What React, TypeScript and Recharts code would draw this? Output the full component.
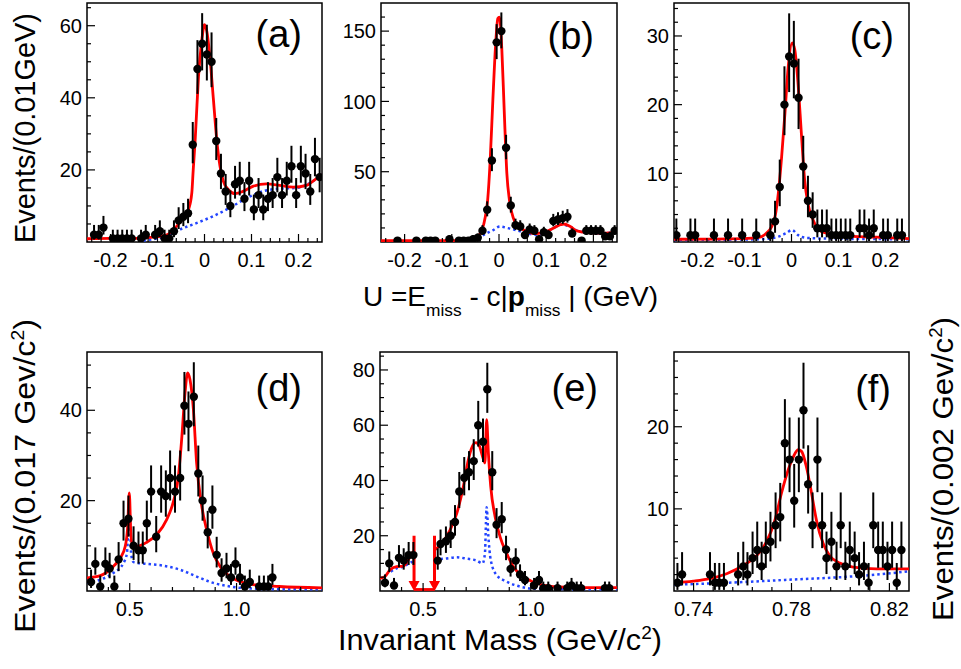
import React from "react";
import {
  ComposedChart,
  Line,
  Scatter,
  XAxis,
  YAxis,
  ErrorBar,
  ReferenceArea,
  ReferenceLine,
} from "recharts";

const FONT = "'Liberation Sans', Arial, Helvetica, sans-serif";
const RED = "#ff0000";
const BLUE = "#2244ff";

// ---------- tick labels ----------
const uTicks = [-0.2, -0.1, 0, 0.1, 0.2];
const massTicks = [0.5, 1.0];
const fXTicks = [0.74, 0.78, 0.82];
const aYTicks = [20, 40, 60];
const bYTicks = [50, 100, 150];
const cYTicks = [10, 20, 30];
const dYTicks = [20, 40];
const eYTicks = [20, 40, 60, 80];
const fYTicks = [10, 20];

// ---------- panel (a) ----------
const aBinX = [-0.235,-0.225,-0.215,-0.195,-0.185,-0.175,-0.165,-0.155,-0.135,-0.125,-0.105,-0.095,-0.085,-0.075,-0.065,-0.055,-0.045,-0.035,-0.025,-0.015,-0.005,0.005,0.015,0.025,0.035,0.045,0.055,0.065,0.075,0.085,0.095,0.105,0.115,0.125,0.135,0.145,0.155,0.165,0.175,0.185,0.195,0.205,0.215,0.225,0.235,0.245];
const aCounts = [2,2,4,1,1,1,1,1,1,2,2,3,1,1,3,6,7,8,27,48,55,52,50,28,19,14,10,16,17,12,17,9,13,9,12,13,18,13,17,21,13,21,19,14,23,18];
const aFitX = [-0.25,-0.2,-0.15,-0.122,-0.1,-0.08,-0.059,-0.045,-0.034,-0.027,-0.024,-0.02,-0.016,-0.0127,-0.0057,0,0.005,0.012,0.019,0.026,0.033,0.04,0.051,0.065,0.083,0.104,0.132,0.16,0.189,0.217,0.231,0.25];
const aFitY = [0.9,1.0,1.0,1.2,1.5,2.0,4.4,6.7,9,13.6,20,28,38,46,56,60.3,58.4,50.6,39.5,28.4,21,16.9,14.5,13.4,14.1,15.5,16.1,15.7,15.2,15.7,16.9,18.7];
const aBkgX = [-0.13,-0.1,-0.087,-0.052,-0.016,0.019,0.054,0.09,0.125,0.16,0.196,0.231,0.25];
const aBkgY = [0.4,1.0,1.4,3.5,5.3,7.2,9.5,12.2,14.1,14.8,15.0,16.9,18.7];

// ---------- panel (b) ----------
const bBinX = [-0.215,-0.175,-0.155,-0.145,-0.135,-0.105,-0.085,-0.075,-0.065,-0.055,-0.045,-0.035,-0.025,-0.015,-0.005,0.005,0.015,0.025,0.035,0.045,0.055,0.065,0.075,0.085,0.095,0.105,0.115,0.125,0.135,0.145,0.155,0.175,0.185,0.195,0.205,0.215,0.225,0.235,0.245];
const bCounts = [1,1,1,1,1,2,1,1,1,2,3,8,23,58,142,150,67,26,12,11,5,9,8,2,7,5,15,16,17,18,6,1,8,8,8,8,4,4,8];
const bFitX = [-0.25,-0.1,-0.061,-0.047,-0.036,-0.029,-0.024,-0.0187,-0.013,-0.0074,-0.0025,0.001,0.006,0.011,0.0166,0.022,0.027,0.034,0.045,0.059,0.073,0.087,0.101,0.116,0.13,0.137,0.151,0.165,0.186,0.222,0.25];
const bFitY = [1,1,1.2,3.3,8.5,18,30,58,101,139,159,160,137,94,49,30,21,14,10,7.6,5.9,6.3,7.5,10,12.3,12.8,11,7.9,6.7,6.3,7.4];
const bBkgX = [-0.054,-0.033,-0.012,0.002,0.017,0.038,0.059,0.08,0.094,0.116,0.133,0.151,0.172,0.222,0.25];
const bBkgY = [0.3,5,8.5,11,10,8.3,6.2,5,6.2,10,12.5,10.8,7.3,6.2,7.3];

// ---------- panel (c) ----------
const cBinX = [-0.245,-0.215,-0.205,-0.165,-0.135,-0.105,-0.075,-0.045,-0.035,-0.025,-0.015,-0.005,0.005,0.015,0.025,0.035,0.045,0.055,0.065,0.075,0.085,0.095,0.105,0.115,0.125,0.145,0.155,0.165,0.175,0.195,0.205,0.225,0.235];
const cCounts = [1,1,1,1,1,1,1,1,3,8,20,27,26,21,11,6,4,2,2,2,1,1,1,1,1,2,2,1,2,1,1,1,1];
const cFitX = [-0.25,-0.103,-0.067,-0.053,-0.0425,-0.035,-0.028,-0.021,-0.014,-0.007,0.0014,0.007,0.014,0.021,0.028,0.035,0.046,0.06,0.074,0.11,0.18,0.25];
const cFitY = [0.4,0.5,0.7,1.3,2.2,3.7,7.1,12.4,18.7,25.5,29,28,23,15.8,9,5.6,3.2,1.7,1.3,0.9,0.7,0.5];
const cBkgX = [-0.25,-0.067,-0.032,-0.011,0.001,0.014,0.032,0.074,0.25];
const cBkgY = [0.3,0.4,0.7,1.3,1.75,1.0,0.6,0.5,0.4];

// ---------- panel (d) ----------
const dBinX = [0.319,0.339,0.362,0.386,0.406,0.428,0.448,0.471,0.494,0.518,0.541,0.561,0.58,0.6,0.624,0.647,0.669,0.689,0.712,0.736,0.756,0.775,0.8,0.821,0.841,0.865,0.887,0.907,0.93,0.953,0.974,0.995,1.016,1.039,1.062,1.106,1.128,1.148,1.168];
const dCounts = [2,6,1,6,5,1,7,15,16,10,9,9,15,22,12,22,21,25,22,25,41,37,43,26,20,13,18,8,4,5,3,6,3,1,2,1,1,1,3];
const dFitX = [0.3,0.362,0.424,0.456,0.479,0.49,0.498,0.505,0.512,0.533,0.58,0.627,0.673,0.705,0.728,0.743,0.759,0.771,0.782,0.798,0.813,0.837,0.86,0.891,0.922,0.969,1.016,1.078,1.2,1.4];
const dFitY = [2.9,3.4,5.5,7.3,9.9,14,21.7,13,10,9.9,10.8,12.5,15.8,19.9,25.4,33.5,43.9,48.3,46.8,40.2,28.4,18.8,13.6,8.4,5.5,3.2,2.1,1.4,1.0,0.7];
const dBkgX = [0.3,0.362,0.424,0.471,0.487,0.498,0.507,0.518,0.58,0.658,0.736,0.813,0.891,0.969,1.047,1.2,1.4];
const dBkgY = [1.8,2.5,4,6.2,8.4,18,8,6.4,6,5.6,4.7,3.2,1.8,1,0.6,0.4,0.4];

// ---------- panel (e) ----------
const eBinX = [0.323,0.343,0.365,0.388,0.41,0.433,0.455,0.568,0.581,0.606,0.628,0.648,0.668,0.691,0.713,0.735,0.756,0.778,0.798,0.821,0.841,0.865,0.885,0.906,0.93,0.95,0.973,1.015,1.038,1.058,1.081,1.124,1.169,1.189,1.213,1.233,1.344,1.364];
const eCounts = [3,10,2,12,11,13,13,11,17,18,20,25,36,41,43,47,60,54,73,43,24,26,15,8,11,6,4,2,4,1,1,1,1,2,1,1,1,1];
const eFitLX = [0.3,0.323,0.346,0.377,0.408,0.431,0.447,0.458];
const eFitLY = [4.6,5.2,7.6,8.8,9,11.2,13.6,14.5];
const eFitGapX = [0.458,0.553];
const eFitGapY = [0.55,0.55];
const eFitRX = [0.553,0.594,0.625,0.656,0.687,0.71,0.725,0.745,0.761,0.776,0.787,0.795,0.803,0.814,0.834,0.857,0.888,0.919,0.965,1.027,1.104,1.259,1.4];
const eFitRY = [14.8,17.9,22,28,37.8,47.5,51.7,53.7,52.5,48.7,46.3,62,50,37.8,27,19.7,13.6,8.8,5.2,2.8,1.6,1.2,1.2];
const eBkgLX = [0.35,0.38,0.41,0.435,0.456];
const eBkgLY = [7.0,8.3,8.8,10,10.8];
const eBkgRX = [0.555,0.609,0.656,0.702,0.749,0.776,0.787,0.795,0.803,0.814,0.841,0.888,0.95,1.027,1.4];
const eBkgRY = [11.4,11.8,12.2,11.7,11,10,13.6,30.3,19.7,11.2,5.8,3.4,1.6,0.8,0.6];
const eCutX = [0.458,0.553];
const eCutTop = 20;

// ---------- panel (f) ----------
const fBinX = [0.7334,0.7353,0.7467,0.7487,0.7505,0.7524,0.7582,0.7603,0.762,0.7641,0.766,0.7678,0.7695,0.7714,0.7735,0.7754,0.7773,0.7792,0.7811,0.783,0.7849,0.7868,0.7886,0.7906,0.7925,0.7943,0.7963,0.7984,0.8001,0.802,0.8038,0.8058,0.8076,0.8096,0.8115,0.8134,0.8154,0.8173,0.8192,0.8211,0.823,0.8249];
const fCounts = [1,2,2,1,1,1,2,3,2,4,5,3,5,6,8,9,18,16,11,16,22,13,8,16,8,4,6,3,8,3,5,4,2,3,1,8,5,5,3,5,1,5];
const fFitX = [0.732,0.7399,0.7467,0.7535,0.7603,0.7657,0.7698,0.7732,0.7759,0.7786,0.7807,0.7827,0.7841,0.7861,0.7882,0.7902,0.7929,0.7956,0.7997,0.8052,0.8147,0.828];
const fFitY = [1.0,1.2,1.5,2.1,3.1,4.3,6.0,8.6,11.9,14.7,16.3,17.2,17.0,15.1,11.9,8.6,5.8,4.3,3.4,2.9,2.7,2.7];
const fBkgX = [0.732,0.7535,0.7807,0.8011,0.8147,0.828];
const fBkgY = [0.77,1.0,1.4,1.7,2.0,2.4];

// ---------- helpers ----------
type Pt = { x: number; y: number; err?: [number, number] };
const pts = (xs: number[], ns: number[]): Pt[] =>
  xs.map((x, i) => {
    const n = ns[i];
    return { x, y: n, err: [Math.sqrt(Math.max(n - 0.25, 0)), Math.sqrt(n + 1) + 1] };
  });
const curve = (xs: number[], ys: number[]): Pt[] => xs.map((x, i) => ({ x, y: ys[i] }));
const range = (a: number, b: number, s: number) => {
  const out: number[] = [];
  const n = Math.round((b - a) / s);
  for (let k = 0; k <= n; k++) out.push(+(a + k * s).toFixed(6));
  return out;
};
const near = (arr: number[], v: number) => arr.some((m) => Math.abs(m - v) < 1e-7);
const minorOf = (all: number[], major: number[]) => all.filter((v) => !near(major, v));

type Box = { left: number; top: number; w: number; h: number };

type PanelProps = {
  box: Box;
  xDomain: [number, number];
  yDomain: [number, number];
  xMajor: number[];
  xMinor: number[];
  yMajor: number[];
  yMinor: number[];
  xFmt: (v: number) => string;
  points: Pt[];
  fits: Pt[][];
  bkgs: Pt[][];
  fitTypes?: ("monotone" | "linear")[];
  cuts?: number[];
  cutTop?: number;
};

const AXW = 60;
const AXH = 34;
const PAD = 6;
const TICK_FS = 20;

const Dot = (p: any) => <circle cx={p.cx} cy={p.cy} r={4.2} fill="#000" />;
const ArrowHead = (p: any) => (
  <polygon
    points={`${p.cx - 5.5},${p.cy - 10} ${p.cx + 5.5},${p.cy - 10} ${p.cx},${p.cy}`}
    fill={RED}
  />
);

function Panel(p: PanelProps) {
  const W = AXW + p.box.w + PAD;
  const H = PAD + p.box.h + AXH;
  const yTick = (t: any) => {
    const v = t.payload.value;
    const maj = near(p.yMajor, v);
    return (
      <g>
        <line x1={t.x} x2={t.x + (maj ? 8 : 4)} y1={t.y} y2={t.y} stroke="#000" strokeWidth={1.2} />
        {maj && (
          <text x={t.x - 5} y={t.y} dy="0.36em" textAnchor="end" fontFamily={FONT} fontSize={TICK_FS} fill="#000">
            {String(v)}
          </text>
        )}
      </g>
    );
  };
  const xTick = (t: any) => {
    const v = t.payload.value;
    const maj = near(p.xMajor, v);
    return (
      <g>
        <line x1={t.x} x2={t.x} y1={t.y} y2={t.y - (maj ? 8 : 4)} stroke="#000" strokeWidth={1.2} />
        {maj && (
          <text x={t.x} y={t.y + 25} textAnchor="middle" fontFamily={FONT} fontSize={TICK_FS} fill="#000">
            {p.xFmt(v)}
          </text>
        )}
      </g>
    );
  };
  return (
    <div style={{ position: "absolute", left: p.box.left - AXW, top: p.box.top - PAD }}>
      <ComposedChart width={W} height={H} margin={{ top: PAD, right: PAD, bottom: 0, left: 0 }}>
        <XAxis
          xAxisId="x"
          type="number"
          dataKey="x"
          domain={p.xDomain}
          allowDataOverflow
          ticks={[...p.xMajor, ...p.xMinor]}
          interval={0}
          tickSize={0}
          tickMargin={0}
          tickLine={false}
          axisLine={false}
          tick={xTick}
          height={AXH}
        />
        <YAxis
          yAxisId="y"
          type="number"
          dataKey="y"
          domain={p.yDomain}
          allowDataOverflow
          ticks={[...p.yMajor, ...p.yMinor]}
          interval={0}
          tickSize={0}
          tickMargin={0}
          tickLine={false}
          axisLine={false}
          tick={yTick}
          width={AXW}
        />
        <ReferenceArea
          xAxisId="x"
          yAxisId="y"
          x1={p.xDomain[0]}
          x2={p.xDomain[1]}
          y1={p.yDomain[0]}
          y2={p.yDomain[1]}
          fill="none"
          stroke="#000"
          strokeWidth={1.5}
        />
        {p.bkgs.map((d, i) => (
          <Line
            key={"b" + i}
            xAxisId="x"
            yAxisId="y"
            data={d}
            dataKey="y"
            type="monotone"
            stroke={BLUE}
            strokeWidth={2.5}
            strokeDasharray="2.5 3"
            dot={false}
            activeDot={false}
            isAnimationActive={false}
          />
        ))}
        {p.fits.map((d, i) => (
          <Line
            key={"f" + i}
            xAxisId="x"
            yAxisId="y"
            data={d}
            dataKey="y"
            type={p.fitTypes ? p.fitTypes[i] : "monotone"}
            stroke={RED}
            strokeWidth={2.8}
            dot={false}
            activeDot={false}
            isAnimationActive={false}
          />
        ))}
        {p.cuts &&
          p.cuts.map((c, i) => (
            <ReferenceLine
              key={"c" + i}
              xAxisId="x"
              yAxisId="y"
              segment={[
                { x: c, y: p.cutTop ?? 20 },
                { x: c, y: 2 },
              ]}
              stroke={RED}
              strokeWidth={3}
            />
          ))}
        {p.cuts && (
          <Scatter
            xAxisId="x"
            yAxisId="y"
            data={p.cuts.map((c) => ({ x: c, y: 0 }))}
            dataKey="y"
            shape={ArrowHead}
            isAnimationActive={false}
          />
        )}
        <Scatter xAxisId="x" yAxisId="y" data={p.points} dataKey="y" shape={Dot} isAnimationActive={false}>
          <ErrorBar dataKey="err" direction="y" width={0} stroke="#000" strokeWidth={2} />
        </Scatter>
      </ComposedChart>
    </div>
  );
}

const uFmt = (v: number) => (Math.abs(v) < 1e-9 ? "0" : String(v));
const mFmt = (v: number) => v.toFixed(1);
const fFmt = (v: number) => v.toFixed(2);

const uMinor = minorOf(range(-0.24, 0.24, 0.02), uTicks);
const mMinor = minorOf(range(0.4, 1.3, 0.1), massTicks);
const fMinor = minorOf(range(0.74, 0.82, 0.008), fXTicks);

const labelStyle = { fontFamily: FONT, fill: "#000" } as const;

export default function App() {
  return (
    <div style={{ position: "absolute", left: 0, top: 0, width: 961, height: 669, background: "#fff", overflow: "hidden" }}>
      <Panel
        box={{ left: 87, top: 3, w: 235, h: 239 }}
        xDomain={[-0.25, 0.25]}
        yDomain={[0, 66.3]}
        xMajor={uTicks}
        xMinor={uMinor}
        yMajor={aYTicks}
        yMinor={minorOf(range(5, 65, 5), aYTicks)}
        xFmt={uFmt}
        points={pts(aBinX, aCounts)}
        fits={[curve(aFitX, aFitY)]}
        bkgs={[curve(aBkgX, aBkgY)]}
      />
      <Panel
        box={{ left: 381, top: 3, w: 236, h: 239 }}
        xDomain={[-0.25, 0.25]}
        yDomain={[0, 170]}
        xMajor={uTicks}
        xMinor={uMinor}
        yMajor={bYTicks}
        yMinor={minorOf(range(10, 160, 10), bYTicks)}
        xFmt={uFmt}
        points={pts(bBinX, bCounts)}
        fits={[curve(bFitX, bFitY)]}
        bkgs={[curve(bBkgX, bBkgY)]}
      />
      <Panel
        box={{ left: 674, top: 3, w: 235, h: 239 }}
        xDomain={[-0.25, 0.25]}
        yDomain={[0, 34.8]}
        xMajor={uTicks}
        xMinor={uMinor}
        yMajor={cYTicks}
        yMinor={minorOf(range(2, 34, 2), cYTicks)}
        xFmt={uFmt}
        points={pts(cBinX, cCounts)}
        fits={[curve(cFitX, cFitY)]}
        bkgs={[curve(cBkgX, cBkgY)]}
      />
      <Panel
        box={{ left: 87, top: 352, w: 235, h: 239 }}
        xDomain={[0.3, 1.4]}
        yDomain={[0, 52.9]}
        xMajor={massTicks}
        xMinor={mMinor}
        yMajor={dYTicks}
        yMinor={minorOf(range(5, 50, 5), dYTicks)}
        xFmt={mFmt}
        points={pts(dBinX, dCounts)}
        fits={[curve(dFitX, dFitY)]}
        bkgs={[curve(dBkgX, dBkgY)]}
      />
      <Panel
        box={{ left: 380, top: 352, w: 237, h: 239 }}
        xDomain={[0.3, 1.4]}
        yDomain={[0, 86.5]}
        xMajor={massTicks}
        xMinor={mMinor}
        yMajor={eYTicks}
        yMinor={minorOf(range(5, 85, 5), eYTicks)}
        xFmt={mFmt}
        points={pts(eBinX, eCounts)}
        fits={[curve(eFitLX, eFitLY), curve(eFitGapX, eFitGapY), curve(eFitRX, eFitRY)]}
        fitTypes={["monotone", "linear", "monotone"]}
        bkgs={[curve(eBkgLX, eBkgLY), curve(eBkgRX, eBkgRY)]}
        cuts={eCutX}
        cutTop={eCutTop}
      />
      <Panel
        box={{ left: 674, top: 352, w: 235, h: 239 }}
        xDomain={[0.732, 0.828]}
        yDomain={[0, 29.1]}
        xMajor={fXTicks}
        xMinor={fMinor}
        yMajor={fYTicks}
        yMinor={minorOf(range(2, 28, 2), fYTicks)}
        xFmt={fFmt}
        points={pts(fBinX, fCounts)}
        fits={[curve(fFitX, fFitY)]}
        bkgs={[curve(fBkgX, fBkgY)]}
      />
      <svg
        width={961}
        height={669}
        style={{ position: "absolute", left: 0, top: 0, pointerEvents: "none" }}
      >
        <g {...labelStyle} fontSize={38} textAnchor="end">
          <text x={302} y={47}>(a)</text>
          <text x={594} y={49}>(b)</text>
          <text x={894} y={49}>(c)</text>
          <text x={302} y={401}>(d)</text>
          <text x={598} y={401}>(e)</text>
          <text x={891} y={402}>(f)</text>
        </g>
        <text
          {...labelStyle}
          fontSize={29}
          textAnchor="middle"
          transform="translate(35,128) rotate(-90)"
          textLength={230}
          lengthAdjust="spacingAndGlyphs"
        >
          Events/(0.01GeV)
        </text>
        <text
          {...labelStyle}
          fontSize={30}
          textAnchor="middle"
          transform="translate(35,476) rotate(-90)"
          textLength={314}
          lengthAdjust="spacingAndGlyphs"
        >
          Events/(0.017 Gev/c<tspan fontSize={18} dy={-11}>2</tspan>
          <tspan dy={11}>)</tspan>
        </text>
        <text
          {...labelStyle}
          fontSize={30}
          textAnchor="middle"
          transform="translate(953,469) rotate(-90)"
          textLength={304}
          lengthAdjust="spacingAndGlyphs"
        >
          Events/(0.002 Gev/c<tspan fontSize={18} dy={-11}>2</tspan>
          <tspan dy={11}>)</tspan>
        </text>
        <text {...labelStyle} fontSize={27.5} x={363} y={306} textLength={295} lengthAdjust="spacingAndGlyphs">
          U =E<tspan fontSize={17} dy={10}>miss</tspan>
          <tspan dy={-10}> - c|</tspan>
          <tspan fontWeight="bold">p</tspan>
          <tspan fontSize={17} dy={10}>miss</tspan>
          <tspan dy={-10}> | (GeV)</tspan>
        </text>
        <text {...labelStyle} fontSize={29} x={338} y={650} textLength={324} lengthAdjust="spacingAndGlyphs">
          Invariant Mass (GeV/c<tspan fontSize={18} dy={-11}>2</tspan>
          <tspan dy={11}>)</tspan>
        </text>
      </svg>
    </div>
  );
}
